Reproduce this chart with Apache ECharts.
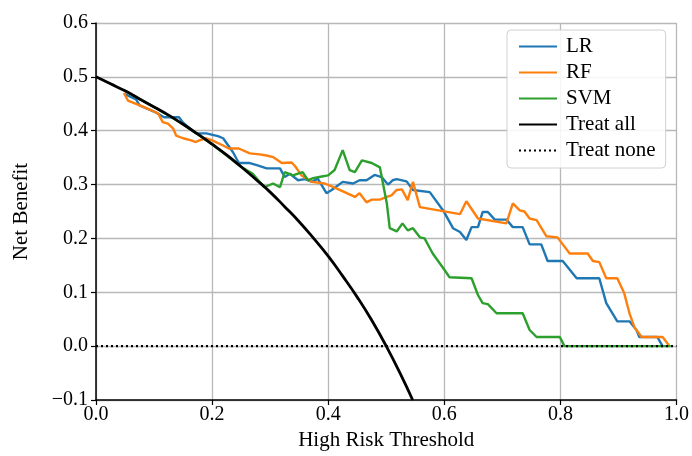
<!DOCTYPE html>
<html>
<head>
<meta charset="utf-8">
<script src="https://cdn.jsdelivr.net/npm/echarts@6/dist/echarts.min.js"></script>
<style>html,body{margin:0;padding:0;background:#fff;}#c{width:692px;height:456px;}</style>
</head>
<body>
<div id="c"></div>
<script>
const xTicks = [0, 0.2, 0.4, 0.6, 0.8, 1.0];
const yTicks = [-0.1, 0, 0.1, 0.2, 0.3, 0.4, 0.5, 0.6];

const lrX = [0.05,0.069,0.075,0.103,0.117,0.143,0.150,0.172,0.190,0.210,0.219,0.236,0.246,0.265,0.277,0.294,0.317,0.325,0.334,0.348,0.360,0.372,0.382,0.397,0.406,0.425,0.443,0.454,0.466,0.480,0.492,0.503,0.511,0.518,0.535,0.546,0.575,0.598,0.615,0.627,0.638,0.647,0.658,0.666,0.675,0.687,0.707,0.718,0.735,0.747,0.767,0.778,0.804,0.828,0.867,0.879,0.898,0.919,0.931,0.936,0.967,0.976];
const lrY = [0.468,0.458,0.447,0.434,0.425,0.425,0.415,0.395,0.395,0.390,0.386,0.360,0.340,0.340,0.336,0.330,0.330,0.314,0.320,0.308,0.310,0.305,0.311,0.284,0.290,0.305,0.302,0.308,0.308,0.318,0.314,0.300,0.308,0.310,0.306,0.290,0.286,0.252,0.219,0.212,0.197,0.221,0.221,0.249,0.249,0.235,0.235,0.221,0.221,0.189,0.189,0.158,0.158,0.126,0.126,0.080,0.046,0.046,0.030,0.017,0.017,0.000];

const rfX = [0.048,0.055,0.069,0.091,0.107,0.115,0.124,0.133,0.138,0.150,0.164,0.172,0.178,0.190,0.200,0.218,0.229,0.246,0.265,0.282,0.294,0.305,0.320,0.337,0.343,0.354,0.372,0.394,0.414,0.432,0.446,0.454,0.466,0.475,0.489,0.501,0.509,0.518,0.527,0.537,0.546,0.558,0.627,0.638,0.658,0.707,0.718,0.730,0.738,0.747,0.759,0.776,0.795,0.816,0.847,0.856,0.867,0.879,0.898,0.910,0.919,0.928,0.940,0.976,0.988];
const rfY = [0.470,0.456,0.450,0.440,0.432,0.416,0.413,0.404,0.391,0.386,0.382,0.379,0.382,0.386,0.382,0.373,0.367,0.367,0.358,0.356,0.354,0.351,0.340,0.341,0.334,0.317,0.305,0.302,0.293,0.284,0.277,0.284,0.267,0.272,0.272,0.277,0.280,0.290,0.291,0.271,0.305,0.258,0.245,0.269,0.237,0.228,0.265,0.252,0.250,0.237,0.234,0.204,0.202,0.172,0.172,0.158,0.156,0.126,0.126,0.098,0.061,0.034,0.017,0.017,0.000];

const svmX = [0.05,0.10,0.15,0.20,0.25,0.270,0.290,0.305,0.317,0.325,0.339,0.356,0.365,0.374,0.389,0.400,0.411,0.425,0.437,0.446,0.458,0.475,0.489,0.501,0.506,0.518,0.528,0.537,0.546,0.558,0.566,0.580,0.598,0.609,0.647,0.658,0.666,0.675,0.690,0.735,0.747,0.759,0.799,0.807,0.990];
const svmY = [0.474,0.444,0.412,0.375,0.333,0.320,0.295,0.302,0.295,0.323,0.317,0.323,0.308,0.312,0.315,0.317,0.327,0.364,0.327,0.323,0.345,0.340,0.332,0.265,0.219,0.213,0.228,0.215,0.219,0.202,0.200,0.172,0.145,0.128,0.126,0.095,0.080,0.078,0.061,0.061,0.030,0.017,0.017,0.000,0.000];

const allX = [0,0.025,0.05,0.075,0.1,0.125,0.15,0.175,0.2,0.225,0.25,0.275,0.3,0.325,0.35,0.375,0.4,0.425,0.45,0.475,0.5,0.525,0.5455];
const allY = [0.5,0.487,0.474,0.459,0.444,0.429,0.412,0.394,0.375,0.355,0.333,0.310,0.286,0.259,0.231,0.200,0.167,0.130,0.091,0.048,0.000,-0.053,-0.100];

const noneX = [0, 1];
const noneY = [0, 0];

const zip = (xs, ys) => xs.map((x, i) => [x, ys[i]]);
const serif = '"Liberation Serif", "DejaVu Serif", serif';
const fmt = v => (Math.abs(v) < 1e-9 ? 0 : v).toFixed(1).replace('-', '\u2212');

const chart = echarts.init(document.getElementById('c'));
chart.setOption({
  animation: false,
  backgroundColor: '#ffffff',
  grid: { left: 96, right: 15, top: 23, bottom: 56, containLabel: false },
  xAxis: {
    type: 'value', min: 0, max: 1, interval: 0.2,
    name: 'High Risk Threshold', nameLocation: 'middle', nameGap: 30,
    nameTextStyle: { fontFamily: serif, fontSize: 21, color: '#000' },
    axisLine: { show: true, onZero: false, lineStyle: { color: '#000', width: 1.5 } },
    axisTick: { show: true, length: 5, lineStyle: { color: '#000', width: 1.2 } },
    axisLabel: { fontFamily: serif, fontSize: 20, color: '#000', margin: 5, formatter: fmt },
    splitLine: { show: true, lineStyle: { color: '#b8b8b8', width: 1.3 } }
  },
  yAxis: {
    type: 'value', min: -0.1, max: 0.6, interval: 0.1,
    name: 'Net Benefit', nameLocation: 'middle', nameGap: 64,
    nameTextStyle: { fontFamily: serif, fontSize: 21, color: '#000' },
    axisLine: { show: true, onZero: false, lineStyle: { color: '#000', width: 1.5 } },
    axisTick: { show: true, length: 5, lineStyle: { color: '#000', width: 1.2 } },
    axisLabel: { fontFamily: serif, fontSize: 20, color: '#000', margin: 8, formatter: fmt },
    splitLine: { show: true, lineStyle: { color: '#b8b8b8', width: 1.3 } }
  },
  legend: {
    orient: 'vertical', left: 507, top: 30,
    itemWidth: 38, itemHeight: 14, itemGap: 5,
    padding: [6, 10, 7, 11],
    backgroundColor: 'rgba(255,255,255,0.85)',
    borderColor: '#d0d0d0', borderWidth: 1, borderRadius: 4,
    itemStyle: { opacity: 0 },
    textStyle: { fontFamily: serif, fontSize: 21, lineHeight: 21, color: '#000', padding: [0, 0, 0, 4] },
    data: ['LR', 'RF', 'SVM', 'Treat all', 'Treat none']
  },
  series: [
    { name: 'LR', type: 'line', symbol: 'none', data: zip(lrX, lrY), color: '#1f77b4', lineStyle: { width: 2.4, color: '#1f77b4' }, z: 3 },
    { name: 'RF', type: 'line', symbol: 'none', data: zip(rfX, rfY), color: '#ff7f0e', lineStyle: { width: 2.4, color: '#ff7f0e' }, z: 3 },
    { name: 'SVM', type: 'line', symbol: 'none', data: zip(svmX, svmY), color: '#2ca02c', lineStyle: { width: 2.4, color: '#2ca02c' }, z: 3 },
    { name: 'Treat all', type: 'line', symbol: 'none', smooth: true, data: zip(allX, allY), color: '#000', lineStyle: { width: 2.8, color: '#000' }, z: 4 },
    { name: 'Treat none', type: 'line', symbol: 'none', data: zip(noneX, noneY), color: '#000', lineStyle: { width: 2.2, color: '#000', type: [2, 3] }, z: 5 }
  ]
});
</script>
</body>
</html>
